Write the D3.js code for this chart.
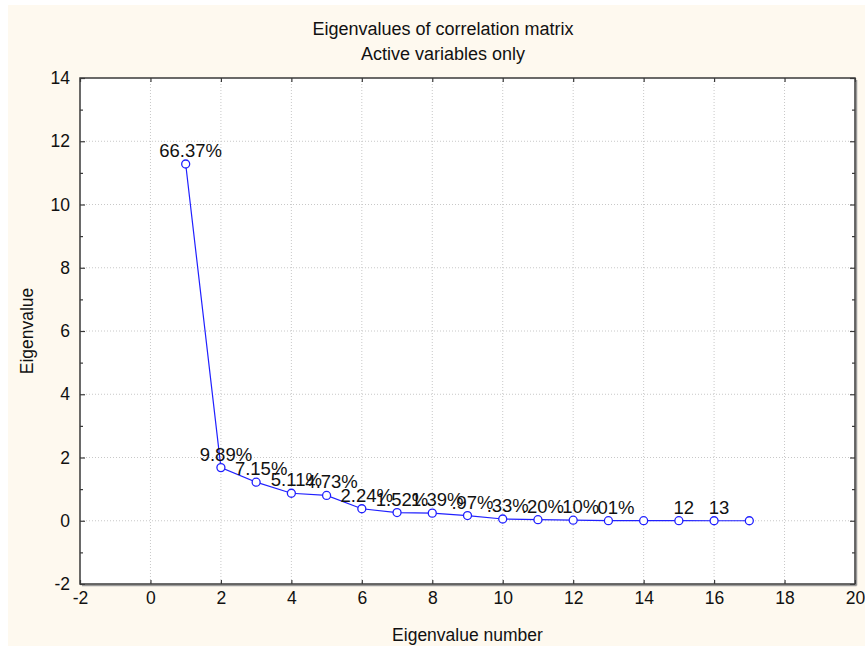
<!DOCTYPE html>
<html>
<head>
<meta charset="utf-8">
<script src="https://cdn.jsdelivr.net/npm/d3@7"></script>
<style>
  html, body { margin: 0; padding: 0; background: #fff; }
  svg text { font-family: "Liberation Sans", Arial, sans-serif; fill: #111; }
</style>
</head>
<body>
<div id="chart"></div>
<script>
// eigenvalue numbers and values (sum = 17 variables)
var eigenNumbers = [1, 2, 3, 4, 5, 6, 7, 8, 9, 10, 11, 12, 13, 14, 15, 16, 17];
var eigenValues = [11.28, 1.68, 1.22, 0.87, 0.80, 0.38, 0.26, 0.24, 0.165, 0.056, 0.034, 0.017, 0.002, 0.001, 0.001, 0.0005, 0.0003];
var pointLabels = ['66.37%', '9.89%', '7.15%', '5.11%', '4.73%', '2.24%', '1.52%', '1.39%', '.97%', '.33%', '.20%', '.10%', '.01%', '', '12', '13', ''];
var xTicks = [-2, 0, 2, 4, 6, 8, 10, 12, 14, 16, 18, 20];
var yTicks = [-2, 0, 2, 4, 6, 8, 10, 12, 14];
var yMinorTicks = [-1, 1, 3, 5, 7, 9, 11, 13];

var width = 865, height = 646;
var plot = { left: 80, right: 855, top: 78, bottom: 584 };
var fmt = function (d) { return String(d); };   // plain hyphen for negatives

var svg = d3.select('#chart').append('svg')
  .attr('width', width).attr('height', height);

// figure background
svg.append('rect').attr('x', 8).attr('y', 5)
  .attr('width', width - 8).attr('height', height - 5)
  .attr('fill', '#fef9ef');

var x = d3.scaleLinear().domain([-2, 20]).range([plot.left, plot.right]);
var y = d3.scaleLinear().domain([-2, 14]).range([plot.bottom, plot.top]);

// plot area
svg.append('rect')
  .attr('x', plot.left).attr('y', plot.top)
  .attr('width', plot.right - plot.left).attr('height', plot.bottom - plot.top)
  .attr('fill', '#fff');

// grid
var grid = svg.append('g').attr('stroke', '#c8c8c8').attr('stroke-dasharray', '1,2').attr('stroke-width', 1);
xTicks.slice(1, -1).forEach(function (t) {
  grid.append('line').attr('x1', x(t)).attr('x2', x(t)).attr('y1', plot.top).attr('y2', plot.bottom);
});
yTicks.slice(1, -1).forEach(function (t) {
  grid.append('line').attr('x1', plot.left).attr('x2', plot.right).attr('y1', y(t)).attr('y2', y(t));
});

// axes (ticks drawn inward)
var axisColor = '#3a3a3a';
var bottomAxis = svg.append('g').attr('transform', 'translate(0,' + plot.bottom + ')')
  .call(d3.axisBottom(x).tickValues(xTicks).tickSize(-4).tickPadding(8).tickFormat(fmt));
var topAxis = svg.append('g').attr('transform', 'translate(0,' + plot.top + ')')
  .call(d3.axisTop(x).tickValues(xTicks).tickSize(-4).tickFormat(''));
var leftAxis = svg.append('g').attr('transform', 'translate(' + plot.left + ',0)')
  .call(d3.axisLeft(y).tickValues(yTicks).tickSize(-5).tickPadding(10).tickFormat(fmt));
var leftMinor = svg.append('g').attr('transform', 'translate(' + plot.left + ',0)')
  .call(d3.axisLeft(y).tickValues(yMinorTicks).tickSize(-3).tickFormat(''));
var rightAxis = svg.append('g').attr('transform', 'translate(' + plot.right + ',0)')
  .call(d3.axisRight(y).tickValues(yTicks).tickSize(-5).tickFormat(''));
var rightMinor = svg.append('g').attr('transform', 'translate(' + plot.right + ',0)')
  .call(d3.axisRight(y).tickValues(yMinorTicks).tickSize(-3).tickFormat(''));

[bottomAxis, topAxis, leftAxis, leftMinor, rightAxis, rightMinor].forEach(function (a) {
  a.select('.domain').remove();
  a.selectAll('line').attr('stroke', axisColor).attr('stroke-width', 1.2);
  a.selectAll('text').attr('font-size', 17.5).attr('font-family', '"Liberation Sans", Arial, sans-serif').attr('fill', '#111');
});

// frame with light shadow on right/bottom
svg.append('line').attr('x1', plot.right + 1.5).attr('x2', plot.right + 1.5)
  .attr('y1', plot.top + 2).attr('y2', plot.bottom + 1.5).attr('stroke', '#9a9a9a').attr('stroke-width', 1.5);
svg.append('line').attr('x1', plot.left + 2).attr('x2', plot.right + 1.5)
  .attr('y1', plot.bottom + 1.5).attr('y2', plot.bottom + 1.5).attr('stroke', '#9a9a9a').attr('stroke-width', 1.5);
svg.append('rect')
  .attr('x', plot.left).attr('y', plot.top)
  .attr('width', plot.right - plot.left).attr('height', plot.bottom - plot.top)
  .attr('fill', 'none').attr('stroke', axisColor).attr('stroke-width', 1.5);

// titles
svg.append('text').attr('x', 443).attr('y', 35).attr('text-anchor', 'middle')
  .attr('font-size', 18).text('Eigenvalues of correlation matrix');
svg.append('text').attr('x', 443).attr('y', 60).attr('text-anchor', 'middle')
  .attr('font-size', 18).text('Active variables only');
svg.append('text').attr('x', (plot.left + plot.right) / 2).attr('y', 641).attr('text-anchor', 'middle')
  .attr('font-size', 17.5).text('Eigenvalue number');
svg.append('text').attr('transform', 'translate(33,' + ((plot.top + plot.bottom) / 2) + ') rotate(-90)')
  .attr('text-anchor', 'middle').attr('font-size', 17.5).text('Eigenvalue');

// series
var pts = eigenNumbers.map(function (n, i) { return { n: n, v: eigenValues[i], label: pointLabels[i] }; });

svg.append('path').datum(pts)
  .attr('fill', 'none').attr('stroke', '#2020ff').attr('stroke-width', 1.2)
  .attr('d', d3.line().x(function (d) { return x(d.n); }).y(function (d) { return y(d.v); }));

svg.selectAll('circle.pt').data(pts).enter().append('circle')
  .attr('class', 'pt')
  .attr('cx', function (d) { return x(d.n); })
  .attr('cy', function (d) { return y(d.v); })
  .attr('r', 4)
  .attr('fill', '#fff').attr('stroke', '#2020ff').attr('stroke-width', 1.3);

svg.selectAll('text.lbl').data(pts).enter().append('text')
  .attr('class', 'lbl')
  .attr('x', function (d) { return x(d.n) + 5; })
  .attr('y', function (d) { return y(d.v) - 7; })
  .attr('text-anchor', 'middle')
  .attr('font-size', 18.5)
  .text(function (d) { return d.label; });
</script>
</body>
</html>
